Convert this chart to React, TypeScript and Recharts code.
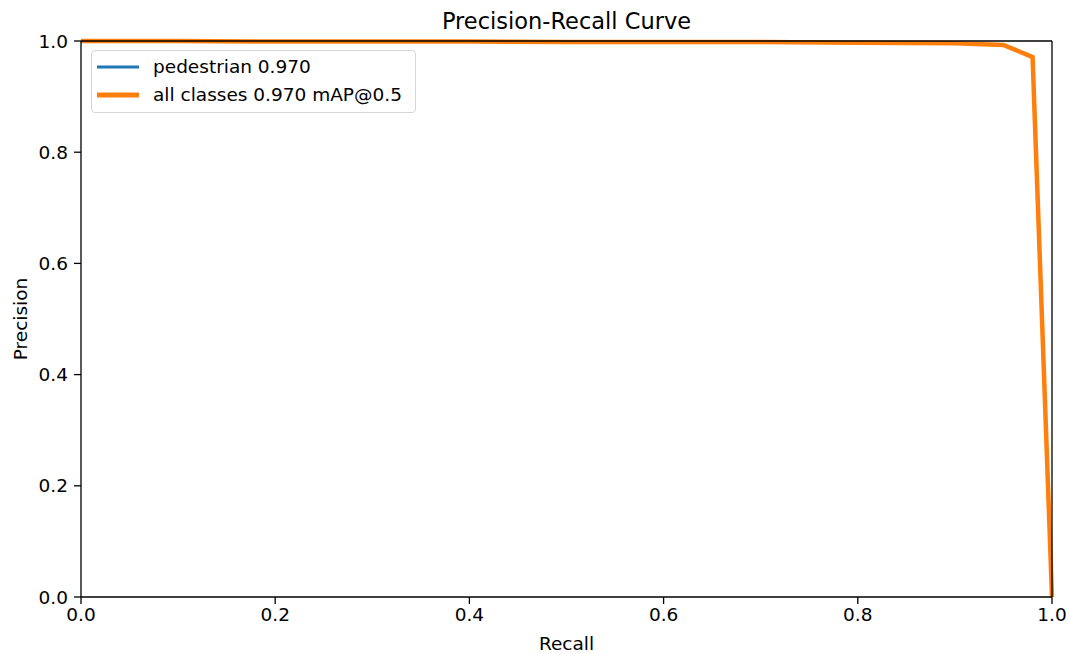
import React from "react";
import { LineChart, Line, XAxis, YAxis, ReferenceLine } from "recharts";

const recall = [0, 0.1, 0.2, 0.3, 0.4, 0.5, 0.6, 0.7, 0.8, 0.9, 0.95, 0.98, 1.0];
const pedestrianPrecision = [1.0, 1.0, 0.999, 0.999, 0.999, 0.998, 0.998, 0.998, 0.997, 0.996, 0.993, 0.971, 0.0];
const allClassesPrecision = [1.0, 1.0, 0.999, 0.999, 0.999, 0.998, 0.998, 0.998, 0.997, 0.996, 0.993, 0.971, 0.0];
const ticks = [0, 0.2, 0.4, 0.6, 0.8, 1.0];
const seriesNames = ["pedestrian 0.970", "all classes 0.970 mAP@0.5"];

const data = recall.map((r, i) => ({
  r,
  ped: pedestrianPrecision[i],
  all: allClassesPrecision[i],
}));

const FONT = "'DejaVu Sans', sans-serif";
const fmt = (v: number) => v.toFixed(1);

export default function App() {
  return (
    <div style={{ position: "absolute", left: 0, top: 0, width: 1069, height: 654, background: "#fff", fontFamily: FONT }}>
      <div
        style={{
          position: "absolute",
          left: 81,
          width: 971,
          top: 7,
          textAlign: "center",
          fontSize: 22.5,
          color: "#000",
          lineHeight: "28px",
        }}
      >
        Precision-Recall Curve
      </div>
      <LineChart
        width={1069}
        height={654}
        data={data}
        margin={{ top: 41, right: 17, bottom: 0, left: 21 }}
        style={{ fontFamily: FONT }}
      >
        <XAxis
          dataKey="r"
          type="number"
          domain={[0, 1]}
          ticks={ticks}
          tickFormatter={fmt}
          height={57}
          tickSize={7}
          tickMargin={4}
          axisLine={{ stroke: "#000", strokeWidth: 1.3 }}
          tickLine={{ stroke: "#000", strokeWidth: 1.3 }}
          tick={{ fill: "#000", fontSize: 18.5 }}
          label={{ value: "Recall", position: "insideBottom", offset: 0, dy: -4, fill: "#000", fontSize: 18.5 }}
        />
        <YAxis
          type="number"
          domain={[0, 1]}
          ticks={ticks}
          tickFormatter={fmt}
          width={60}
          tickSize={7}
          tickMargin={6}
          axisLine={{ stroke: "#000", strokeWidth: 1.3 }}
          tickLine={{ stroke: "#000", strokeWidth: 1.3 }}
          tick={{ fill: "#000", fontSize: 18.5 }}
          label={{ value: "Precision", angle: -90, position: "insideLeft", offset: 0, dx: -1, fill: "#000", fontSize: 18.5, style: { textAnchor: "middle" } }}
        />
        <Line
          dataKey="ped"
          type="linear"
          stroke="#1f77b4"
          strokeWidth={2.5}
          dot={false}
          isAnimationActive={false}
        />
        <Line
          dataKey="all"
          type="linear"
          stroke="#ff7f0e"
          strokeWidth={4.5}
          dot={false}
          isAnimationActive={false}
        />
        <ReferenceLine x={1} stroke="#000" strokeWidth={1.3} />
        <ReferenceLine y={1} stroke="#000" strokeWidth={1.3} />
      </LineChart>
      <div
        style={{
          position: "absolute",
          left: 91,
          top: 50,
          width: 323,
          height: 61,
          border: "1px solid #d5d5d5",
          borderRadius: 4,
          background: "rgba(255,255,255,0.8)",
          fontSize: 18.5,
          color: "#000",
        }}
      >
        {seriesNames.map((name, i) => (
          <div key={name} style={{ position: "absolute", left: 5, top: i === 0 ? 3 : 31, height: 26, display: "flex", alignItems: "center" }}>
            <svg width={42} height={8} style={{ display: "block" }}>
              <line x1={0} x2={42} y1={4} y2={4} stroke={i === 0 ? "#1f77b4" : "#ff7f0e"} strokeWidth={i === 0 ? 3 : 5} />
            </svg>
            <span style={{ marginLeft: 14, whiteSpace: "nowrap", lineHeight: "26px" }}>{name}</span>
          </div>
        ))}
      </div>
    </div>
  );
}
